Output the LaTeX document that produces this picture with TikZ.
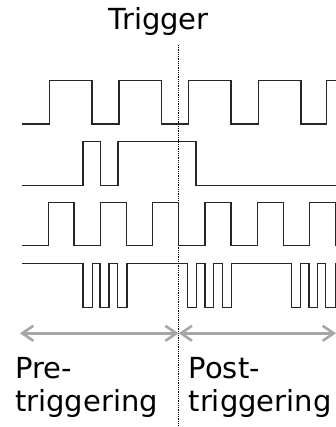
\documentclass[tikz,border=0pt]{standalone}
\usepackage{fontspec}
\setmainfont{DejaVu Sans}
\usetikzlibrary{arrows.meta}
\begin{document}
\begin{tikzpicture}[x=1pt,y=-1pt,
  wave/.style={line width=1.2pt,black!85,line join=miter},
  span/.style={line width=2.6pt,black!35,{Straight Barb[length=11pt,width=15pt]}-{Straight Barb[length=11pt,width=15pt]}},
  trig/.style={line width=1.1pt,black,dash pattern=on 1pt off 0.8pt},
  lbl/.style={font=\fontsize{29}{33.4}\selectfont,inner sep=0pt,anchor=base west}]
\useasboundingbox (0,0) rectangle (336,427);
% trigger line
\coordinate (ttop) at (178.7,45);
\coordinate (tbot) at (178.7,427);
\draw[trig] (ttop) -- (tbot);
\node[font=\fontsize{29}{33}\selectfont,inner sep=0pt,anchor=base] (trigger) at (158.7,30) {Trigger};
% waveform 1
\draw[wave] (22,124) -| (49.3,80.7) -| (92,124) -| (119,80.7) -| (161.7,124) -| (188.7,80.7) -| (231,124) -| (258.7,80.7) -| (301,124) -| (326.7,80.7) -- (336,80.7);
% waveform 2
\draw[wave] (22,185.3) -| (83,141.3) -| (100.3,185.3) -| (118,141.3) -| (196,185.3) -- (336,185.3);
% waveform 3
\draw[wave] (22,245.7) -| (48.3,202.7) -| (74,245.7) -| (100.7,202.7) -| (126.7,245.7) -| (152.7,202.7) -| (178.7,245.7) -| (205,202.7) -| (231,245.7) -| (257.3,202.7) -| (283.3,245.7) -| (309.5,202.7) -| (335.3,245.7);
% waveform 4
\draw[wave] (22,263.3) -| (83,307.3) -| (92.3,263.3) -| (100,307.3) -| (109,263.3) -| (117.3,307.3) -| (127,263.3) -| (187.3,307.3) -| (196.3,263.3) -| (205,307.3) -| (213.3,263.3) -| (222.3,307.3) -| (231.3,263.3) -| (291.7,307.3) -| (300.7,263.3) -| (309,307.3) -| (317.5,263.3) -| (325.8,307.3) -| (335.2,263.3);
% spans
\coordinate (pl) at (20,333.3);
\coordinate (pm) at (178.7,333.3);
\coordinate (pr) at (336,333.3);
\draw[span] (pl) -- (pm);
\draw[span] (pm) -- (pr);
% labels
\node[lbl] (pre1) at (15,378.3) {Pre-};
\node[lbl] (pre2) at (15,411.7) {triggering};
\node[lbl] (post1) at (188.5,378.3) {Post-};
\node[lbl] (post2) at (188.5,411.7) {triggering};
\end{tikzpicture}
\end{document}
